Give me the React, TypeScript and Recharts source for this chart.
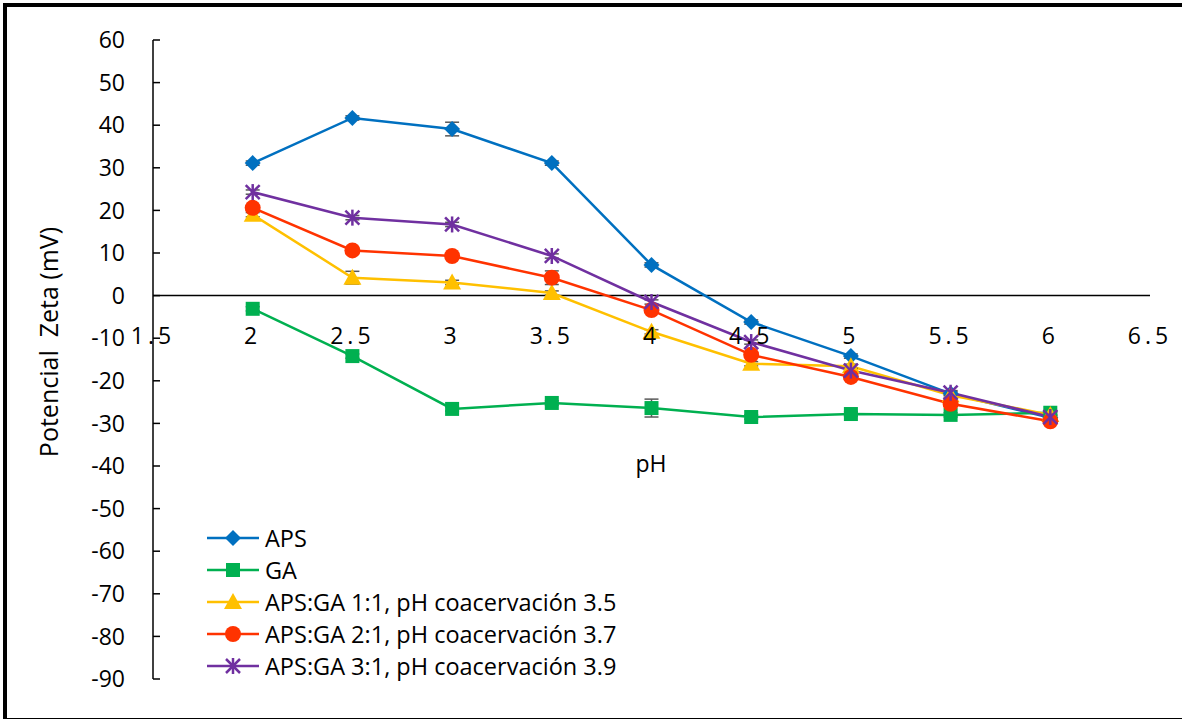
import React from "react";
import {
  LineChart,
  Line,
  XAxis,
  YAxis,
  ReferenceLine,
  ReferenceDot,
  ErrorBar,
} from "recharts";

// pH values on the x axis
const phValues = [2, 2.5, 3, 3.5, 4, 4.5, 5, 5.5, 6];

// zeta potential (mV)
const aps = [31.1, 41.7, 39.1, 31.1, 7.2, -6.2, -14.2, -23.0, -28.7];
const ga = [-3.1, -14.2, -26.6, -25.2, -26.4, -28.5, -27.8, -28.0, -27.5];
const ratio11 = [19.0, 4.2, 3.1, 0.6, -8.5, -16.0, -16.6, -23.4, -28.0];
const ratio21 = [20.6, 10.6, 9.3, 4.2, -3.4, -13.9, -19.1, -25.4, -29.5];
const ratio31 = [24.3, 18.3, 16.7, 9.3, -1.5, -10.9, -17.6, -22.8, -28.5];

// error bars (only a few visible in the figure)
const apsErr = [0.5, 0.5, 1.6, 0.5, 0.5, 0.5, 0.5, 0.5, 0.5];
const gaErr = [0.5, 0.5, 0.5, 0.5, 2.1, 0.5, 0.5, 0.5, 0.5];
const ratio11Err = [0.5, 1.5, 0.5, 0.5, 0.5, 0.5, 0.5, 0.5, 0.5];
const ratio21Err = [0.5, 0.5, 0.5, 1.6, 0.5, 0.5, 0.5, 0.5, 0.5];
const ratio31Err = [0.5, 0.5, 0.5, 0.5, 0.5, 0.5, 0.5, 0.5, 0.5];

const xTicks = [1.5, 2, 2.5, 3, 3.5, 4, 4.5, 5, 5.5, 6, 6.5];
const yTicks = [-90, -80, -70, -60, -50, -40, -30, -20, -10, 0, 10, 20, 30, 40, 50, 60];

const seriesNames = [
  "APS",
  "GA",
  "APS:GA 1:1, pH coacervación 3.5",
  "APS:GA 2:1, pH coacervación 3.7",
  "APS:GA 3:1, pH coacervación 3.9",
];

const data = phValues.map((ph, i) => ({
  ph,
  aps: aps[i],
  apsErr: apsErr[i],
  ga: ga[i],
  gaErr: gaErr[i],
  r11: ratio11[i],
  r11Err: ratio11Err[i],
  r21: ratio21[i],
  r21Err: ratio21Err[i],
  r31: ratio31[i],
  r31Err: ratio31Err[i],
}));

const FONT = "'Open Sans', sans-serif";
const BLUE = "#0070C0";
const GREEN = "#00B050";
const YELLOW = "#FFC000";
const RED = "#FF3300";
const PURPLE = "#7030A0";

type Shape = "diamond" | "square" | "triangle" | "circle" | "star";

function Marker({ shape, cx, cy, color }: { shape: Shape; cx: number; cy: number; color: string }) {
  if (cx == null || cy == null) return null;
  switch (shape) {
    case "diamond":
      return <path d={`M${cx},${cy - 8}L${cx + 8},${cy}L${cx},${cy + 8}L${cx - 8},${cy}Z`} fill={color} />;
    case "square":
      return <rect x={cx - 7} y={cy - 7} width={14} height={14} fill={color} />;
    case "triangle":
      return <path d={`M${cx},${cy - 9}L${cx + 9},${cy + 7}L${cx - 9},${cy + 7}Z`} fill={color} />;
    case "circle":
      return <circle cx={cx} cy={cy} r={8} fill={color} />;
    case "star":
      return (
        <g stroke={color} strokeWidth={2.5}>
          <line x1={cx - 7} y1={cy - 7} x2={cx + 7} y2={cy + 7} />
          <line x1={cx - 7} y1={cy + 7} x2={cx + 7} y2={cy - 7} />
          <line x1={cx} y1={cy - 8} x2={cx} y2={cy + 8} />
        </g>
      );
  }
}

const dotFor = (shape: Shape, color: string) => (p: any) =>
  <Marker key={`${shape}-${p.index}`} shape={shape} cx={p.cx} cy={p.cy} color={color} />;

const legendItems: { name: string; color: string; shape: Shape }[] = [
  { name: seriesNames[0], color: BLUE, shape: "diamond" },
  { name: seriesNames[1], color: GREEN, shape: "square" },
  { name: seriesNames[2], color: YELLOW, shape: "triangle" },
  { name: seriesNames[3], color: RED, shape: "circle" },
  { name: seriesNames[4], color: PURPLE, shape: "star" },
];

function LegendBox() {
  return (
    <div style={{ fontFamily: FONT, fontSize: 23.5, color: "#000" }}>
      {legendItems.map((it) => (
        <div key={it.name} style={{ display: "flex", alignItems: "center", height: 32 }}>
          <svg width={52} height={24} style={{ marginRight: 6 }}>
            <line x1={0} y1={12} x2={52} y2={12} stroke={it.color} strokeWidth={2.5} />
            <Marker shape={it.shape} cx={26} cy={12} color={it.color} />
          </svg>
          <span>{it.name}</span>
        </div>
      ))}
    </div>
  );
}

export default function App() {
  return (
    <div style={{ position: "absolute", left: 0, top: 0, width: 1182, height: 719, background: "#fff" }}>
      <div
        style={{
          position: "absolute",
          left: 3,
          top: 3,
          width: 1182,
          height: 711,
          borderTop: "4px solid #000",
          borderLeft: "4px solid #000",
          borderBottom: "2px solid #000",
        }}
      />
      <div style={{ position: "absolute", left: 0, top: 0 }}>
        <LineChart
          width={1182}
          height={719}
          data={data}
          margin={{ top: 40, right: 32, bottom: 40, left: 0 }}
        >
          <XAxis dataKey="ph" type="number" domain={[1.5, 6.5]} ticks={xTicks} hide />
          <YAxis
            type="number"
            domain={[-90, 60]}
            ticks={yTicks}
            width={153}
            interval={0}
            axisLine={{ stroke: "#000", strokeWidth: 1.5 }}
            tickLine={{ stroke: "#000", strokeWidth: 1.5 }}
            tickSize={-7}
            tickMargin={35}
            tick={{ fill: "#000", fontSize: 23, fontFamily: FONT }}
          />
          <ReferenceLine y={0} stroke="#000" strokeWidth={1.5} />
          {xTicks.map((t) => (
            <ReferenceDot
              key={t}
              x={t}
              y={-9.5}
              r={0}
              stroke="none"
              label={{
                value: String(t),
                position: "center",
                fill: "#000",
                fontSize: 23,
                fontFamily: FONT,
                letterSpacing: 4,
              }}
            />
          ))}
          <Line dataKey="aps" name={seriesNames[0]} stroke={BLUE} strokeWidth={2.5} dot={dotFor("diamond", BLUE)} isAnimationActive={false}>
            <ErrorBar dataKey="apsErr" width={7} stroke="#595959" strokeWidth={1.5} />
          </Line>
          <Line dataKey="ga" name={seriesNames[1]} stroke={GREEN} strokeWidth={2.5} dot={dotFor("square", GREEN)} isAnimationActive={false}>
            <ErrorBar dataKey="gaErr" width={7} stroke="#595959" strokeWidth={1.5} />
          </Line>
          <Line dataKey="r11" name={seriesNames[2]} stroke={YELLOW} strokeWidth={2.5} dot={dotFor("triangle", YELLOW)} isAnimationActive={false}>
            <ErrorBar dataKey="r11Err" width={7} stroke="#595959" strokeWidth={1.5} />
          </Line>
          <Line dataKey="r21" name={seriesNames[3]} stroke={RED} strokeWidth={2.5} dot={dotFor("circle", RED)} isAnimationActive={false}>
            <ErrorBar dataKey="r21Err" width={7} stroke="#595959" strokeWidth={1.5} />
          </Line>
          <Line dataKey="r31" name={seriesNames[4]} stroke={PURPLE} strokeWidth={2.5} dot={dotFor("star", PURPLE)} isAnimationActive={false}>
            <ErrorBar dataKey="r31Err" width={7} stroke="#595959" strokeWidth={1.5} />
          </Line>
        </LineChart>
      </div>
      <div style={{ position: "absolute", left: 207, top: 522 }}>
        <LegendBox />
      </div>
      <div
        style={{
          position: "absolute",
          left: 48,
          top: 342,
          transform: "translate(-50%, -50%) rotate(-90deg)",
          whiteSpace: "nowrap",
          fontFamily: FONT,
          fontSize: 25,
          color: "#000",
        }}
      >
        Potencial&nbsp; Zeta (mV)
      </div>
      <div
        style={{
          position: "absolute",
          left: 651,
          top: 463,
          transform: "translate(-50%, -50%)",
          fontFamily: FONT,
          fontSize: 23,
          color: "#000",
        }}
      >
        pH
      </div>
    </div>
  );
}
